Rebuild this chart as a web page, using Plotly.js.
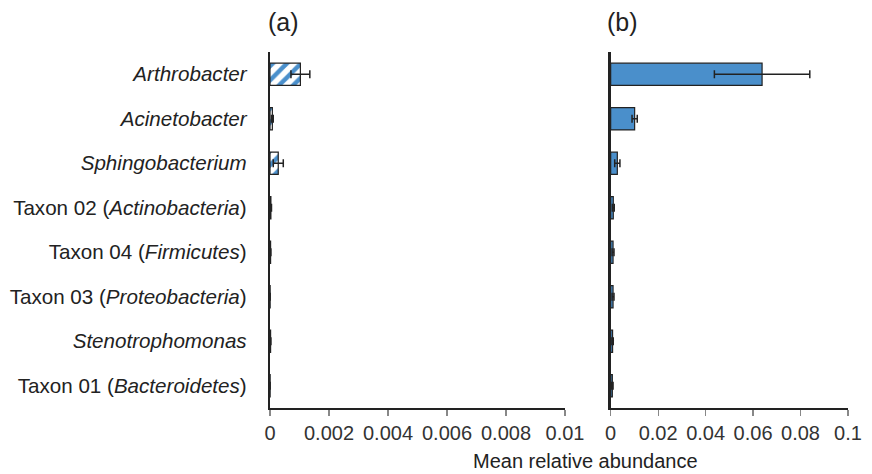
<!DOCTYPE html>
<html>
<head>
<meta charset="utf-8">
<script src="https://cdn.plot.ly/plotly-3.0.1.min.js"></script>
<style>html,body{margin:0;padding:0;background:#fff;}#chart{width:872px;height:474px;}</style>
</head>
<body>
<div id="chart"></div>
<script>
const categories = ['Arthrobacter','Acinetobacter','Sphingobacterium','Taxon 02 (Actinobacteria)','Taxon 04 (Firmicutes)','Taxon 03 (Proteobacteria)','Stenotrophomonas','Taxon 01 (Bacteroidetes)'];
const categoryLabels = ['<i>Arthrobacter</i>','<i>Acinetobacter</i>','<i>Sphingobacterium</i>','Taxon 02 (<i>Actinobacteria</i>)','Taxon 04 (<i>Firmicutes</i>)','Taxon 03 (<i>Proteobacteria</i>)','<i>Stenotrophomonas</i>','Taxon 01 (<i>Bacteroidetes</i>)'];
const valuesA = [0.00103, 0.00008, 0.00028, 0.00003, 0.00002, 0.000005, 0.00002, 0.000005];
const errorsA = [0.00032, 0.00003, 0.00017, 0.00002, 0.00001, 0, 0.00001, 0];
const valuesB = [0.0638, 0.0101, 0.0028, 0.0011, 0.0010, 0.0010, 0.0008, 0.0007];
const errorsB = [0.0201, 0.0011, 0.0011, 0.0004, 0.0004, 0.0004, 0.0003, 0.0003];
const ticksA = [0, 0.002, 0.004, 0.006, 0.008, 0.01];
const tickTextA = ['0','0.002','0.004','0.006','0.008','0.01'];
const ticksB = [0, 0.02, 0.04, 0.06, 0.08, 0.1];
const tickTextB = ['0','0.02','0.04','0.06','0.08','0.1'];

const blue = '#4a8fcb';
const dark = '#222222';

const traceA = {
  type: 'bar', orientation: 'h', x: valuesA, y: categories, xaxis: 'x', yaxis: 'y', width: 0.5,
  marker: {color: blue, line: {color: dark, width: 1.2},
    pattern: {shape: '/', fgcolor: blue, bgcolor: '#ffffff', size: 10, solidity: 0.45, fillmode: 'replace'}},
  error_x: {type: 'data', array: errorsA, visible: true, color: dark, thickness: 1.5, width: 4},
  hoverinfo: 'x+y'
};
const traceB = {
  type: 'bar', orientation: 'h', x: valuesB, y: categories, xaxis: 'x2', yaxis: 'y2', width: 0.5,
  marker: {color: blue, line: {color: dark, width: 1.2}},
  error_x: {type: 'data', array: errorsB, visible: true, color: dark, thickness: 1.5, width: 4},
  hoverinfo: 'x+y'
};

const fontFam = '"Liberation Sans", Arial, sans-serif';
const xCommon = {
  showline: true, linecolor: dark, linewidth: 1.5, ticks: 'outside', ticklen: 6, tickcolor: '#888', tickwidth: 1.2,
  showgrid: false, zeroline: false, tickfont: {size: 20, color: '#333', family: fontFam}
};
const yCommon = {
  type: 'category', categoryorder: 'array', categoryarray: categories, autorange: 'reversed',
  showline: true, linecolor: dark, linewidth: 2.2, showgrid: false, zeroline: false
};

const layout = {
  width: 872, height: 474,
  margin: {l: 270, r: 24, t: 52, b: 66},
  paper_bgcolor: '#fff', plot_bgcolor: '#fff',
  showlegend: false,
  font: {family: fontFam, color: dark},
  bargap: 0.5,
  xaxis: Object.assign({}, xCommon, {domain: [0, 0.5104], range: [0, 0.01], tickvals: ticksA, ticktext: tickTextA, anchor: 'y'}),
  xaxis2: Object.assign({}, xCommon, {domain: [0.5894, 1], range: [0, 0.1], tickvals: ticksB, ticktext: tickTextB, anchor: 'y2'}),
  yaxis: Object.assign({}, yCommon, {anchor: 'x', tickvals: categories, ticktext: categoryLabels,
    ticks: 'outside', ticklen: 17, tickcolor: 'rgba(0,0,0,0)', tickfont: {size: 20.6, color: dark, family: fontFam}}),
  yaxis2: Object.assign({}, yCommon, {anchor: 'x2', showticklabels: false, ticks: ''}),
  annotations: [
    {text: '(a)', xref: 'paper', yref: 'paper', x: 0.0225, y: 1.084, xanchor: 'center', yanchor: 'middle', showarrow: false, font: {size: 25, color: dark, family: fontFam}},
    {text: '(b)', xref: 'paper', yref: 'paper', x: 0.6107, y: 1.084, xanchor: 'center', yanchor: 'middle', showarrow: false, font: {size: 25, color: dark, family: fontFam}},
    {text: 'Mean relative abundance', xref: 'paper', yref: 'paper', x: 0.5467, y: -0.148, xanchor: 'center', yanchor: 'middle', showarrow: false, font: {size: 20, color: dark, family: fontFam}}
  ]
};

Plotly.newPlot('chart', [traceA, traceB], layout, {staticPlot: true, displayModeBar: false});
</script>
</body>
</html>
